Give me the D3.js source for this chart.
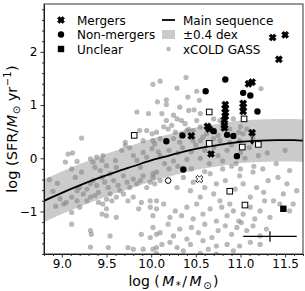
<!DOCTYPE html>
<html>
<head>
<meta charset="utf-8">
<script src="https://cdn.jsdelivr.net/npm/d3@7"></script>
<style>
body { margin: 0; background: #fff; }
text { font-family: "DejaVu Sans", sans-serif; }
</style>
</head>
<body>
<div id="chart"></div>
<script>
// tick labels
var xTicks = [9.0, 9.5, 10.0, 10.5, 11.0, 11.5];
var yTicks = [-1, 0, 1, 2];

// main sequence (log M*, log SFR)
var msMass = [8.8, 9.0, 9.2, 9.4, 9.6, 9.8, 10.0, 10.2, 10.4, 10.6, 10.8, 11.0, 11.2, 11.4, 11.6, 11.7];
var msSfr = [-0.80, -0.65, -0.51, -0.38, -0.26, -0.15, -0.04, 0.05, 0.14, 0.21, 0.26, 0.31, 0.33, 0.34, 0.34, 0.33];
var msWidth = 0.4;

// xCOLD GASS comparison sample
var xcg = [
  [10.39,1.52],[10.10,1.45],[10.02,1.39],[10.29,1.32],[10.51,1.26],[11.23,1.31],[10.54,1.09],[10.41,1.15],
  [10.17,1.10],[10.17,1.01],[10.07,1.06],[9.84,0.87],[9.97,0.84],[10.32,0.96],[10.42,0.90],[10.48,0.91],
  [10.55,0.84],[10.12,0.84],[10.25,0.81],[10.17,0.71],[10.29,0.74],[10.34,0.71],[10.38,0.65],[10.42,0.55],
  [10.51,0.71],[10.70,0.74],[10.77,0.71],[10.92,0.74],[10.88,0.55],[11.00,0.59],[11.07,0.55],[9.22,0.38],
  [9.87,0.52],[9.95,0.52],[10.01,0.46],[10.06,0.49],[10.14,0.59],[10.19,0.55],[10.23,0.62],[10.27,0.49],
  [10.40,0.52],[10.47,0.52],[10.55,0.59],[10.58,0.40],[10.62,0.46],[10.75,0.43],[10.98,0.49],[11.03,0.46],
  [9.71,0.30],[9.91,0.33],[10.02,0.33],[10.10,0.37],[10.25,0.37],[10.32,0.30],[10.47,0.33],[10.55,0.33],
  [10.70,0.37],[10.77,0.33],[10.88,0.30],[10.99,0.33],[11.14,0.37],
  [9.04,-0.07],[9.07,0.08],[9.12,0.10],[9.17,-0.06],[9.11,-0.20],[9.15,-0.36],[9.22,-0.26],[9.32,-0.01],
  [9.35,-0.07],[9.37,-0.17],[9.39,0.02],[9.45,-0.04],[9.43,-0.23],[9.46,0.05],[9.50,-0.14],[9.54,-0.29],
  [9.60,-0.04],[9.61,-0.17],[9.67,0.15],[9.71,0.24],[9.76,0.20],[9.80,0.05],[9.84,-0.04],[9.88,-0.17],
  [9.91,0.11],[9.95,0.02],[10.01,0.18],[10.04,0.27],[10.08,0.12],
  [9.02,-0.86],[9.05,-0.83],[9.11,-0.73],[9.17,-0.61],[9.20,-0.55],[9.24,-0.67],[9.28,-0.58],[9.32,-0.48],
  [9.35,-0.42],[9.39,-0.51],[9.41,-0.64],[9.45,-0.36],[9.48,-0.45],[9.52,-0.55],[9.54,-0.67],[9.58,-0.42],
  [9.63,-0.51],[9.65,-0.61],[9.69,-0.33],[9.73,-0.45],[9.76,-0.55],[9.80,-0.39],[9.84,-0.48],[9.88,-0.42],
  [9.91,-0.33],[9.95,-0.55],[9.99,-0.45],[10.02,-0.36],[10.06,-0.26],
  [9.17,-0.80],[9.20,-0.92],[9.28,-0.80],[9.32,-0.73],[9.37,-0.70],[9.41,-0.83],[9.46,-0.86],[9.50,-0.77],
  [9.56,-0.80],[9.61,-0.73],[9.69,-0.67],[9.74,-0.80],[9.80,-0.73],[9.86,-0.95],[9.89,-0.83],[9.99,-0.92],
  [10.02,-1.08],[10.06,-0.80],
  [9.11,-1.02],[9.45,-1.05],[9.50,-0.95],[9.61,-1.11],[9.50,-1.08],[9.11,-1.24],[9.32,-1.36],[9.33,-1.43],
  [9.54,-1.46],[9.89,-1.43],[9.99,-1.49],[10.06,-1.43],[9.32,-1.67],[9.52,-1.68],[9.74,-1.68],[9.80,-1.71],
  [9.91,-1.71],[10.06,-1.68],
  [8.86,-0.40],[8.90,-0.62],[8.95,-0.47],[8.98,-0.76],[8.93,-0.90],
  [10.02,-0.29],[10.04,-0.48],[10.10,-0.42],[10.29,-0.55],[10.36,-0.36],[10.44,-0.61],[10.47,-0.45],[10.55,-0.73],
  [10.60,-0.55],[10.66,-0.29],[10.70,-0.67],[10.73,-0.48],[10.77,-0.80],[10.83,-0.42],[10.88,-0.86],[10.94,-0.58],
  [10.99,-0.33],[11.03,-0.48],[11.11,-0.73],[11.14,-0.26],[11.18,-0.55],[11.26,-0.64],[11.31,-0.42],[11.37,-0.80],
  [11.42,-0.36],[11.48,-0.67],[11.52,-0.48],[11.55,-0.23],[11.59,-0.86],[11.63,-0.61],
  [9.99,-0.80],[10.06,-0.95],[10.14,-0.86],[10.21,-1.11],[10.27,-0.99],[10.34,-1.08],[10.40,-0.92],[10.47,-1.14],
  [10.51,-0.86],[10.58,-1.05],[10.66,-0.95],[10.73,-1.18],[10.79,-0.92],[10.85,-1.08],[10.92,-0.99],[10.98,-1.18],
  [11.03,-1.05],[11.11,-0.92],[11.16,-1.14],[11.22,-0.99],[11.27,-0.80],[11.33,-1.11],[11.44,-0.86],[11.55,-0.99],
  [10.02,-1.30],[10.10,-1.40],[10.19,-1.24],[10.25,-1.46],[10.32,-1.33],[10.40,-1.52],[10.45,-1.30],[10.53,-1.40],
  [10.60,-1.24],[10.68,-1.49],[10.75,-1.36],[10.83,-1.27],[10.90,-1.43],[10.96,-1.30],[11.01,-1.21],[11.07,-1.36],
  [11.14,-1.27],[11.22,-1.46],[11.29,-1.33],
  [10.02,-1.71],[10.12,-1.62],[10.21,-1.58],[10.29,-1.68],[10.36,-1.74],[10.44,-1.62],[10.58,-1.55],[10.64,-1.71],
  [10.73,-1.65],[10.85,-1.62],[10.92,-1.74],[10.99,-1.65],[11.11,-1.58],[11.22,-1.62],
  [10.06,-1.79],[10.55,-1.79],[10.73,-1.80],
  [10.10,0.05],[10.15,-0.10],[10.20,0.15],[10.25,-0.05],[10.30,0.10],[10.35,0.20],[10.40,-0.02],[10.45,0.12],
  [10.50,0.25],[10.55,0.00],[10.60,0.15],[10.65,-0.10],[10.70,0.20],[10.75,0.05],[10.80,-0.05],[10.85,0.15],
  [10.90,0.25],[10.95,-0.10],[11.00,0.10],[11.05,0.00],[11.10,0.20],[11.15,-0.15],[11.20,0.05],[11.30,0.10],
  [11.40,-0.10],[11.50,0.15],[10.20,-0.20],[10.30,-0.15],[10.45,-0.20],[10.60,-0.25],[10.80,-0.20],[10.90,-0.15],
  [11.00,-0.20],[11.25,-0.20]
];

// target galaxies
var mergers = [[11.36,2.27],[11.50,2.32],[11.43,1.86],[11.09,1.40],[11.13,1.43],[10.83,1.01],[10.83,0.93],
  [10.83,0.86],[10.83,0.79],[10.82,0.72],[10.82,0.62],[11.03,1.03],[11.03,0.96],[11.03,0.88],[10.63,0.60],
  [10.65,0.55],[10.82,0.57],[11.13,0.48],[10.45,0.42],[10.67,0.08]];
var nonMergers = [[10.83,1.48],[10.61,1.26],[11.03,1.23],[11.11,1.18],[11.19,0.88],[10.70,0.51],[10.85,0.44],
  [10.92,0.42],[10.35,0.43],[10.17,0.32],[10.96,0.04],[10.36,-0.21]];
var unclear = [[11.48,-0.95]];
// open symbols
var openSquares = [[10.65,0.87],[11.04,0.74],[9.81,0.43],[10.65,0.28],[11.02,0.21],[11.20,0.26],[10.88,-0.62],[11.05,-0.88]];
var openCircles = [[10.19,-0.42]];
var openMergers = [[10.54,-0.39]];
// upper limit arrow (from, to)
var limitArrow = [[11.13,0.48],[11.13,0.25]];
// typical error bar
var errPoint = [11.33, -1.47], errX = 0.30, errY = 0.10;

var width = 305, height = 291,
    margin = {top: 4, right: 2, bottom: 37, left: 44};

var svg = d3.select("#chart").append("svg")
    .attr("width", width)
    .attr("height", height);

var x = d3.scaleLinear().domain([8.8, 11.7]).range([margin.left, width - margin.right]);
var y = d3.scaleLinear().domain([-1.8, 2.9]).range([height - margin.bottom, margin.top]);

svg.append("clipPath").attr("id", "clip")
  .append("rect")
    .attr("x", margin.left).attr("y", margin.top)
    .attr("width", x.range()[1] - x.range()[0])
    .attr("height", y.range()[0] - y.range()[1]);

var plot = svg.append("g").attr("clip-path", "url(#clip)");

var ms = msMass.map(function (m, i) { return {m: m, s: msSfr[i]}; });

// +-0.4 dex band
plot.append("path")
    .datum(ms)
    .attr("d", d3.area()
        .x(function (d) { return x(d.m); })
        .y0(function (d) { return y(d.s - msWidth); })
        .y1(function (d) { return y(d.s + msWidth); })
        .curve(d3.curveMonotoneX))
    .style("fill", "#cbcbcb");

// xCOLD GASS
plot.selectAll("circle.xcg")
    .data(xcg)
  .enter().append("circle")
    .attr("class", "xcg")
    .attr("cx", function (d) { return x(d[0]); })
    .attr("cy", function (d) { return y(d[1]); })
    .attr("r", 2.6)
    .style("fill", "#808080")
    .style("fill-opacity", 0.55);

// main sequence
plot.append("path")
    .datum(ms)
    .attr("d", d3.line()
        .x(function (d) { return x(d.m); })
        .y(function (d) { return y(d.s); })
        .curve(d3.curveMonotoneX))
    .style("fill", "none")
    .style("stroke", "#000")
    .style("stroke-width", 1.8);

// filled "X" marker
function xMarker(a, t) {
  var p = [[-a, -a + t], [-a + t, -a], [0, -t], [a - t, -a], [a, -a + t], [t, 0],
           [a, a - t], [a - t, a], [0, t], [-a + t, a], [-a, a - t], [-t, 0]];
  return "M" + p.map(function (q) { return q[0] + "," + q[1]; }).join("L") + "Z";
}

// arrow
plot.append("line")
    .attr("x1", x(limitArrow[0][0])).attr("x2", x(limitArrow[1][0]))
    .attr("y1", y(limitArrow[0][1])).attr("y2", y(limitArrow[1][1]) - 2)
    .style("stroke", "#000").style("stroke-width", 1);
plot.append("path")
    .attr("transform", "translate(" + x(limitArrow[1][0]) + "," + y(limitArrow[1][1]) + ")")
    .attr("d", "M-2,-3L2,-3L0,0Z")
    .style("fill", "#000");

plot.selectAll("path.merger")
    .data(mergers)
  .enter().append("path")
    .attr("class", "merger")
    .attr("transform", function (d) { return "translate(" + x(d[0]) + "," + y(d[1]) + ")"; })
    .attr("d", xMarker(3.6, 2.0))
    .style("fill", "#000")
    .style("stroke", "#000")
    .style("stroke-width", 0.6);

plot.selectAll("circle.nonmerger")
    .data(nonMergers)
  .enter().append("circle")
    .attr("cx", function (d) { return x(d[0]); })
    .attr("cy", function (d) { return y(d[1]); })
    .attr("r", 3.2)
    .style("fill", "#000");

plot.selectAll("rect.unclear")
    .data(unclear)
  .enter().append("rect")
    .attr("x", function (d) { return x(d[0]) - 3.2; })
    .attr("y", function (d) { return y(d[1]) - 3.2; })
    .attr("width", 6.4).attr("height", 6.4)
    .style("fill", "#000");

plot.selectAll("rect.open")
    .data(openSquares)
  .enter().append("rect")
    .attr("x", function (d) { return x(d[0]) - 2.8; })
    .attr("y", function (d) { return y(d[1]) - 2.8; })
    .attr("width", 5.6).attr("height", 5.6)
    .style("fill", "#fff").style("stroke", "#000").style("stroke-width", 1);

plot.selectAll("circle.open")
    .data(openCircles)
  .enter().append("circle")
    .attr("cx", function (d) { return x(d[0]); })
    .attr("cy", function (d) { return y(d[1]); })
    .attr("r", 2.8)
    .style("fill", "#fff").style("stroke", "#000").style("stroke-width", 1);

plot.selectAll("path.openmerger")
    .data(openMergers)
  .enter().append("path")
    .attr("transform", function (d) { return "translate(" + x(d[0]) + "," + y(d[1]) + ")"; })
    .attr("d", xMarker(3.6, 1.8))
    .style("fill", "#fff").style("stroke", "#000").style("stroke-width", 0.9);

// typical error bar
plot.append("line")
    .attr("x1", x(errPoint[0] - errX)).attr("x2", x(errPoint[0] + errX))
    .attr("y1", y(errPoint[1])).attr("y2", y(errPoint[1]))
    .style("stroke", "#000").style("stroke-width", 1.2);
plot.append("line")
    .attr("x1", x(errPoint[0])).attr("x2", x(errPoint[0]))
    .attr("y1", y(errPoint[1] - errY)).attr("y2", y(errPoint[1] + errY))
    .style("stroke", "#000").style("stroke-width", 1.2);

// axes
var xMinor = d3.range(88, 118).map(function (v) { return v / 10; }).filter(function (v) { return xTicks.indexOf(v) < 0; });
var yMinor = d3.range(-9, 15).map(function (v) { return v / 5; }).filter(function (v) { return yTicks.indexOf(v) < 0; });

svg.append("g")
    .attr("transform", "translate(0," + y.range()[0] + ")")
    .call(d3.axisBottom(x).tickValues(xTicks).tickFormat(d3.format(".1f")).tickSizeInner(3.5).tickSizeOuter(0).tickPadding(2));
svg.append("g")
    .attr("transform", "translate(0," + y.range()[0] + ")")
    .call(d3.axisBottom(x).tickValues(xMinor).tickFormat("").tickSizeInner(2).tickSizeOuter(0))
    .select(".domain").remove();

svg.append("g")
    .attr("transform", "translate(" + x.range()[0] + ",0)")
    .call(d3.axisLeft(y).tickValues(yTicks).tickFormat(d3.format("d")).tickSizeInner(3.5).tickSizeOuter(0).tickPadding(3));
svg.append("g")
    .attr("transform", "translate(" + x.range()[0] + ",0)")
    .call(d3.axisLeft(y).tickValues(yMinor).tickFormat("").tickSizeInner(2).tickSizeOuter(0))
    .select(".domain").remove();

svg.selectAll(".tick text")
    .style("font-size", "12px")
    .style("font-family", "DejaVu Sans, sans-serif")
    .style("fill", "#000");
svg.selectAll(".tick line").style("stroke", "#333");

// frame
svg.append("rect")
    .attr("x", x.range()[0]).attr("y", y.range()[1])
    .attr("width", x.range()[1] - x.range()[0])
    .attr("height", y.range()[0] - y.range()[1])
    .style("fill", "none").style("stroke", "#333").style("stroke-width", 1);

// axis labels
var xl = svg.append("text")
    .attr("x", (x.range()[0] + x.range()[1]) / 2)
    .attr("y", 285.5)
    .attr("text-anchor", "middle")
    .style("font-size", "14px");
xl.append("tspan").text("log (");
xl.append("tspan").attr("dx", 2.5).style("font-style", "italic").text("M");
xl.append("tspan").attr("dx", 1.5).attr("dy", 3).style("font-size", "10px").text("*");
xl.append("tspan").attr("dx", 1.5).attr("dy", -3).text("/");
xl.append("tspan").attr("dx", 2.5).style("font-style", "italic").text("M");
xl.append("tspan").attr("dx", 1.5).attr("dy", 3).style("font-size", "10px").text("⊙");
xl.append("tspan").attr("dx", 1.5).attr("dy", -3).text(")");

var yl = svg.append("text")
    .attr("transform", "translate(17," + ((y.range()[0] + y.range()[1]) / 2) + ") rotate(-90)")
    .attr("text-anchor", "middle")
    .style("font-size", "14.5px");
yl.append("tspan").text("log (SFR/");
yl.append("tspan").attr("dx", 0.5).style("font-style", "italic").text("M");
yl.append("tspan").attr("dx", 0.5).attr("dy", 3).style("font-size", "10px").text("⊙");
yl.append("tspan").attr("dy", -3).text(" yr");
yl.append("tspan").attr("dx", 0.5).attr("dy", -6).style("font-size", "10px").text("−1");
yl.append("tspan").attr("dx", 0.5).attr("dy", 6).text(")");

// legend
var legendRows = [20, 34.5, 49];
var lg = svg.append("g").style("font-size", "12px");
lg.append("path").attr("transform", "translate(61," + legendRows[0] + ")").attr("d", xMarker(3.6, 2.0))
    .style("fill", "#000").style("stroke", "#000").style("stroke-width", 0.6);
lg.append("circle").attr("cx", 61).attr("cy", legendRows[1]).attr("r", 3.2).style("fill", "#000");
lg.append("rect").attr("x", 57.8).attr("y", legendRows[2] - 3.2).attr("width", 6.4).attr("height", 6.4).style("fill", "#000");
lg.append("line").attr("x1", 162).attr("x2", 175).attr("y1", legendRows[0]).attr("y2", legendRows[0]).style("stroke", "#000").style("stroke-width", 1.8);
lg.append("rect").attr("x", 162).attr("y", legendRows[1] - 4.5).attr("width", 13).attr("height", 9).style("fill", "#cbcbcb");
lg.append("circle").attr("cx", 168.5).attr("cy", legendRows[2]).attr("r", 2.3).style("fill", "#808080").style("fill-opacity", 0.55);
var labels1 = ["Mergers", "Non-mergers", "Unclear"];
var labels2 = ["Main sequence", "±0.4 dex", "xCOLD GASS"];
labels1.forEach(function (t, i) {
  lg.append("text").attr("x", 77).attr("y", legendRows[i] + 4.5).text(t);
});
labels2.forEach(function (t, i) {
  lg.append("text").attr("x", 183).attr("y", legendRows[i] + 4.5).text(t);
});
</script>
</body>
</html>
